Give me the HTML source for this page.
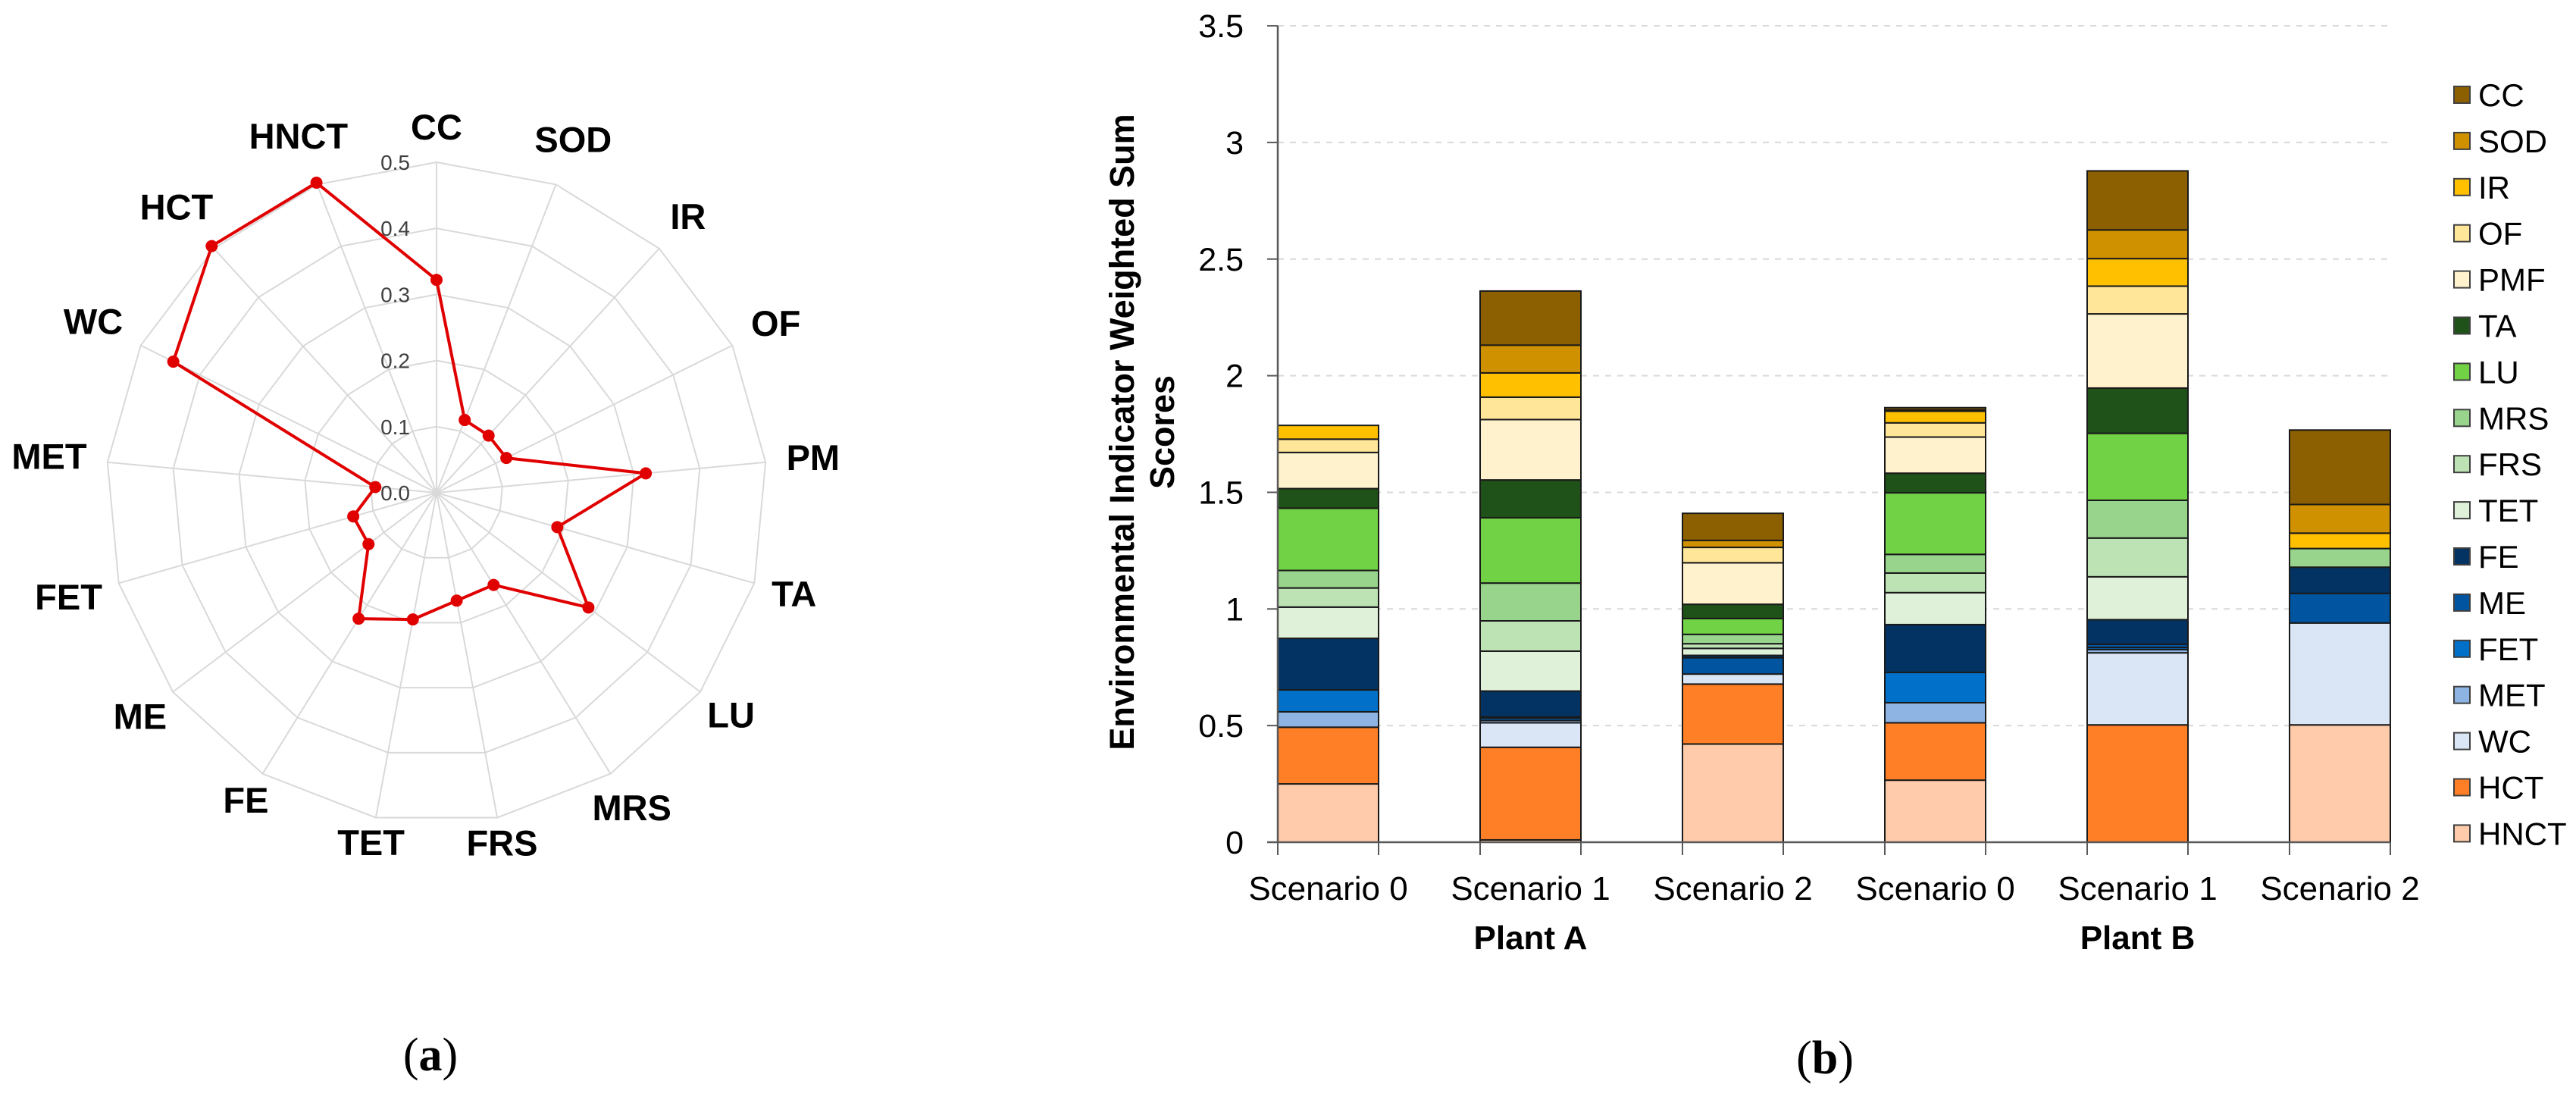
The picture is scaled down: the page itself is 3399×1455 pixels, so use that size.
<!DOCTYPE html>
<html><head><meta charset="utf-8"><style>
html,body{margin:0;padding:0;background:#fff;}
svg{display:block;font-family:"Liberation Sans",Arial,sans-serif;}
</style></head><body>
<svg id="fig" width="3399" height="1455" viewBox="0 0 3399 1455" xmlns="http://www.w3.org/2000/svg">
<g id="radar"></g>
<g id="bars"></g>
<text x="568" y="1412" font-family="Liberation Serif,serif" font-size="62" text-anchor="middle">(<tspan font-weight="bold">a</tspan>)</text>
<text x="2408" y="1416" font-family="Liberation Serif,serif" font-size="62" text-anchor="middle">(<tspan font-weight="bold">b</tspan>)</text>
</svg>
<script>
// ---------- Radar data ----------
const radarAxes = ["CC","SOD","IR","OF","PM","TA","LU","MRS","FRS","TET","FE","ME","FET","MET","WC","HCT","HNCT"];
const radarValues = [0.322,0.118,0.117,0.118,0.318,0.190,0.288,0.164,0.166,0.195,0.224,0.129,0.131,0.093,0.445,0.505,0.503];
const radarTicks = ["0.0","0.1","0.2","0.3","0.4","0.5"];

// ---------- Bar data ----------
const barCategories = ["Scenario 0","Scenario 1","Scenario 2","Scenario 0","Scenario 1","Scenario 2"];
const groupLabels = ["Plant A","Plant B"];
const seriesNames = ["HNCT","HCT","WC","MET","FET","ME","FE","TET","FRS","MRS","LU","TA","PMF","OF","IR","SOD","CC"];
const sHNCT = [0.250,0.010,0.421,0.266,0.000,0.503];
const sHCT  = [0.243,0.397,0.257,0.246,0.503,0.000];
const sWC   = [0.000,0.105,0.043,0.000,0.309,0.437];
const sMET  = [0.066,0.010,0.000,0.086,0.014,0.000];
const sFET  = [0.094,0.010,0.000,0.130,0.009,0.000];
const sME   = [0.000,0.005,0.070,0.000,0.014,0.127];
const sFE   = [0.221,0.111,0.010,0.205,0.105,0.112];
const sTET  = [0.134,0.171,0.030,0.137,0.184,0.000];
const sFRS  = [0.082,0.130,0.020,0.084,0.166,0.000];
const sMRS  = [0.075,0.162,0.040,0.080,0.162,0.080];
const sLU   = [0.267,0.280,0.068,0.264,0.287,0.000];
const sTA   = [0.084,0.162,0.061,0.084,0.194,0.000];
const sPMF  = [0.155,0.259,0.178,0.155,0.318,0.000];
const sOF   = [0.057,0.096,0.066,0.061,0.119,0.000];
const sIR   = [0.059,0.104,0.000,0.050,0.118,0.066];
const sSOD  = [0.000,0.119,0.030,0.005,0.123,0.123];
const sCC   = [0.000,0.232,0.116,0.010,0.253,0.319];
const yTicks = [0,0.5,1,1.5,2,2.5,3,3.5];
const yTickLabels = ["0","0.5","1","1.5","2","2.5","3","3.5"];

const seriesData = [sHNCT,sHCT,sWC,sMET,sFET,sME,sFE,sTET,sFRS,sMRS,sLU,sTA,sPMF,sOF,sIR,sSOD,sCC];
const seriesColors = ["#ffcbaa","#ff7f27","#dae6f5","#8eb4e3","#0070c8","#0054a0","#033363","#e0f1da","#bde3b5","#98d48c","#70d244","#1f5218","#fff2cc","#ffe699","#ffc000","#d09100","#8c6000"];

const NS="http://www.w3.org/2000/svg";
function mk(tag, attrs, parent){const e=document.createElementNS(NS,tag);for(const k in attrs)e.setAttribute(k,attrs[k]);parent.appendChild(e);return e;}

// ---------- Radar ----------
(function(){
  const g=document.getElementById('radar');
  const cx=576, cy=650, R=436, maxV=0.5, n=radarAxes.length;
  const ang=i=>i*2*Math.PI/n;
  const pt=(i,v)=>[cx+Math.sin(ang(i))*v/maxV*R, cy-Math.cos(ang(i))*v/maxV*R];
  for(let k=1;k<radarTicks.length;k++){
    const v=parseFloat(radarTicks[k]);
    const pts=radarAxes.map((_,i)=>pt(i,v).join(',')).join(' ');
    const p=mk('polygon',{points:pts,fill:'none',stroke:'#d9d9d9','stroke-width':2},g);
    
    
  }
  radarAxes.forEach((a,i)=>{
    const [x,y]=pt(i,maxV);
    const l=mk('line',{x1:cx,y1:cy,x2:x,y2:y,stroke:'#d9d9d9','stroke-width':2},g);
    
    
  });
  radarTicks.forEach(t=>{
    const v=parseFloat(t);
    const tx=mk('text',{x:541,y:cy-v/maxV*R+10,'font-size':28,'text-anchor':'end',fill:'#404040'},g);
    tx.textContent=t;
    
    
  });
  const pts=radarValues.map((v,i)=>pt(i,v).join(',')).join(' ');
  const poly=mk('polygon',{points:pts,fill:'none',stroke:'#e00000','stroke-width':4,'stroke-linejoin':'round'},g);
  
  
  radarValues.forEach((v,i)=>{
    const [x,y]=pt(i,v);
    const c=mk('circle',{cx:x,cy:y,r:8,fill:'#e00000'},g);
    
    
  });
  radarAxes.forEach((a,i)=>{
    const t=mk('text',{'font-size':47,'font-weight':'bold','text-anchor':'middle',fill:'#000'},g);
    t.textContent=a;
    
    
    const w=t.getComputedTextLength();
    const s=Math.sin(ang(i)), c=Math.cos(ang(i));
    const r=462+Math.abs(s)*w/2+Math.max(0,c)*20;
    t.setAttribute('x',cx+s*r);
    t.setAttribute('y',cy-c*r+16);
  });
})();

// ---------- Bars ----------
(function(){
  const g=document.getElementById('bars');
  const x0=1686, xEnd=3154, y0=1111, pxPer=307.7, step=267, bw=133;
  const Y=v=>y0-v*pxPer;
  const X=i=>x0+i*step;
  yTicks.forEach((v,k)=>{
    if(v>0){
      const l=mk('line',{x1:x0,y1:Y(v),x2:xEnd,y2:Y(v),stroke:'#d9d9d9','stroke-width':2,'stroke-dasharray':'8,8'},g);
      
      
    }
    const tk=mk('line',{x1:x0-14,y1:Y(v),x2:x0,y2:Y(v),stroke:'#595959','stroke-width':2},g);
    
    
    const t=mk('text',{x:1641,y:Y(v)+15,'font-size':43,'text-anchor':'end',fill:'#000'},g);
    t.textContent=yTickLabels[k];
    
    
  });
  barCategories.forEach((c,i)=>{
    let acc=0;
    seriesData.forEach((s,j)=>{
      const v=s[i];
      if(v>0){
        const r=mk('rect',{x:X(i),y:Y(acc+v),width:bw,height:v*pxPer,fill:seriesColors[j],stroke:'#1a1a1a','stroke-width':2},g);
        
        
      }
      acc+=v;
    });
    [X(i),X(i)+bw].forEach(xx=>{
      const tk=mk('line',{x1:xx,y1:y0,x2:xx,y2:1128,stroke:'#595959','stroke-width':2},g);
      
      
    });
    const t=mk('text',{x:X(i)+bw/2,y:1187,'font-size':44,'text-anchor':'middle',fill:'#000'},g);
    t.textContent=c;
    
    
  });
  groupLabels.forEach((gl,k)=>{
    const t=mk('text',{x:X(1+3*k)+bw/2,y:1252,'font-size':44,'font-weight':'bold','text-anchor':'middle',fill:'#000'},g);
    t.textContent=gl;
    
    
  });
  const ya=mk('line',{x1:x0,y1:Y(3.5),x2:x0,y2:y0,stroke:'#595959','stroke-width':2.5},g);
  
  
  const xa=mk('line',{x1:x0-14,y1:y0,x2:xEnd,y2:y0,stroke:'#595959','stroke-width':2.5},g);
  
  
  const tt=mk('text',{transform:'translate(1496,570) rotate(-90)','font-size':45,'font-weight':'bold','text-anchor':'middle',fill:'#000'},g);
  
  
  const t1=mk('tspan',{x:0,y:0},tt); t1.textContent='Environmental Indicator Weighted Sum';
  const t2=mk('tspan',{x:0,y:53},tt); t2.textContent='Scores';
  // legend (top to bottom: CC ... HNCT)
  for(let k=0;k<seriesNames.length;k++){
    const j=seriesNames.length-1-k;
    const yy=125+k*60.9;
    const r=mk('rect',{x:3238,y:yy-11,width:21,height:22,fill:seriesColors[j],stroke:'#404040','stroke-width':2},g);
    
    
    const t=mk('text',{x:3270,y:yy+15,'font-size':42,fill:'#000'},g);
    t.textContent=seriesNames[j];
    
    
  }
})();
</script>
</body></html>
